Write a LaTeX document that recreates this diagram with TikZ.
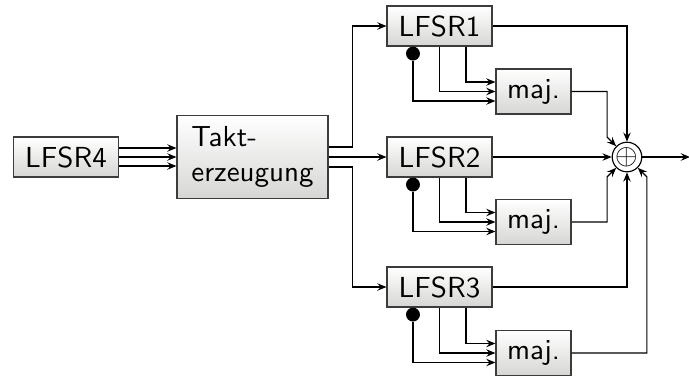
\documentclass[tikz,border=0pt]{standalone}
\usepackage{tikz}
\usetikzlibrary{calc,arrows.meta}
\definecolor{BoxLine}{RGB}{60,60,60}
\definecolor{BoxShade}{RGB}{214,214,212}
\tikzset{
  reg/.style={draw=BoxLine,top color=white,bottom color=BoxShade,font=\sffamily,
    minimum width=36.2pt,minimum height=13.8pt,inner sep=2pt},
  majbox/.style={reg,minimum width=25.9pt,minimum height=15.5pt},
  taktbox/.style={reg,minimum width=52.1pt,minimum height=28.6pt,align=left},
}
\tikzset{tap/.style={circle,fill=black,inner sep=0pt,minimum size=4.8pt}, xorgate/.style={circle,draw=black,inner sep=0pt}}

\begin{document}
\begin{tikzpicture}[x=0.345pt,y=-0.345pt,>={Stealth[length=3.2pt,width=2.6pt,inset=1.2pt]}]
\useasboundingbox (0,0) rectangle (689,376);
\coordinate (p4) at (66,157);
\coordinate (pt) at (252.5,157);
\coordinate (p1) at (439.5,26);
\coordinate (p2) at (439.5,157);
\coordinate (p3) at (439.5,287);
\coordinate (pm1) at (533.5,91.5);
\coordinate (pm2) at (533.5,222);
\coordinate (pm3) at (533.5,353);
\coordinate (px) at (627,157);
\coordinate (out) at (690,157);
\node[reg] (l4) at (p4) {LFSR4};
\node[taktbox] (takt) at (pt) {Takt-\\erzeugung};
\node[reg] (l1) at (p1) {LFSR1};
\node[reg] (l2) at (p2) {LFSR2};
\node[reg] (l3) at (p3) {LFSR3};
\node[majbox] (m1) at (pm1) {maj.};
\node[majbox] (m2) at (pm2) {maj.};
\node[majbox] (m3) at (pm3) {maj.};
\node[xorgate] (xor) at (px) {$\oplus$};
\node[tap] (d1) at ($(l1.south west)!0.25!(l1.south east)+(0,7)$) {};
\node[tap] (d2) at ($(l2.south west)!0.25!(l2.south east)+(0,7)$) {};
\node[tap] (d3) at ($(l3.south west)!0.25!(l3.south east)+(0,7)$) {};
% clock bus
\draw[->] ($(l4.east)+(0,-9)$) -- ($(takt.west)+(0,-9)$);
\draw[->] (l4.east) -- (takt.west);
\draw[->] ($(l4.east)+(0,9)$) -- ($(takt.west)+(0,9)$);
\draw[->] ($(takt.east)+(0,-10)$) -- ++(24,0) |- (l1.west);
\draw[->] (takt.east) -- (l2.west);
\draw[->] ($(takt.east)+(0,10)$) -- ++(24,0) |- (l3.west);
% taps
\draw[->] ($(l1.south west)!0.75!(l1.south east)$) |- ($(m1.west)+(0,-9.5)$);
\draw[->] (l1.south) |- (m1.west);
\draw[->] (d1) |- ($(m1.west)+(0,9.5)$);
\draw[->] ($(l2.south west)!0.75!(l2.south east)$) |- ($(m2.west)+(0,-9.5)$);
\draw[->] (l2.south) |- (m2.west);
\draw[->] (d2) |- ($(m2.west)+(0,9.5)$);
\draw[->] ($(l3.south west)!0.75!(l3.south east)$) |- ($(m3.west)+(0,-9.5)$);
\draw[->] (l3.south) |- (m3.west);
\draw[->] (d3) |- ($(m3.west)+(0,9.5)$);
% combiner
\draw[->] (l1.east) -| (xor.north);
\draw[->] (l2.east) -- (xor.west);
\draw[->] (l3.east) -| (xor.south);
\draw[->] (m1.east) -| ($(xor.north west)+(-9,-9)$) -- (xor.north west);
\draw[->] (m2.east) -| ($(xor.south west)+(-9,9)$) -- (xor.south west);
\draw[->] (m3.east) -| ($(xor.south east)+(9,9)$) -- (xor.south east);
\draw[->] (xor.east) -- (out);
\end{tikzpicture}
\end{document}
